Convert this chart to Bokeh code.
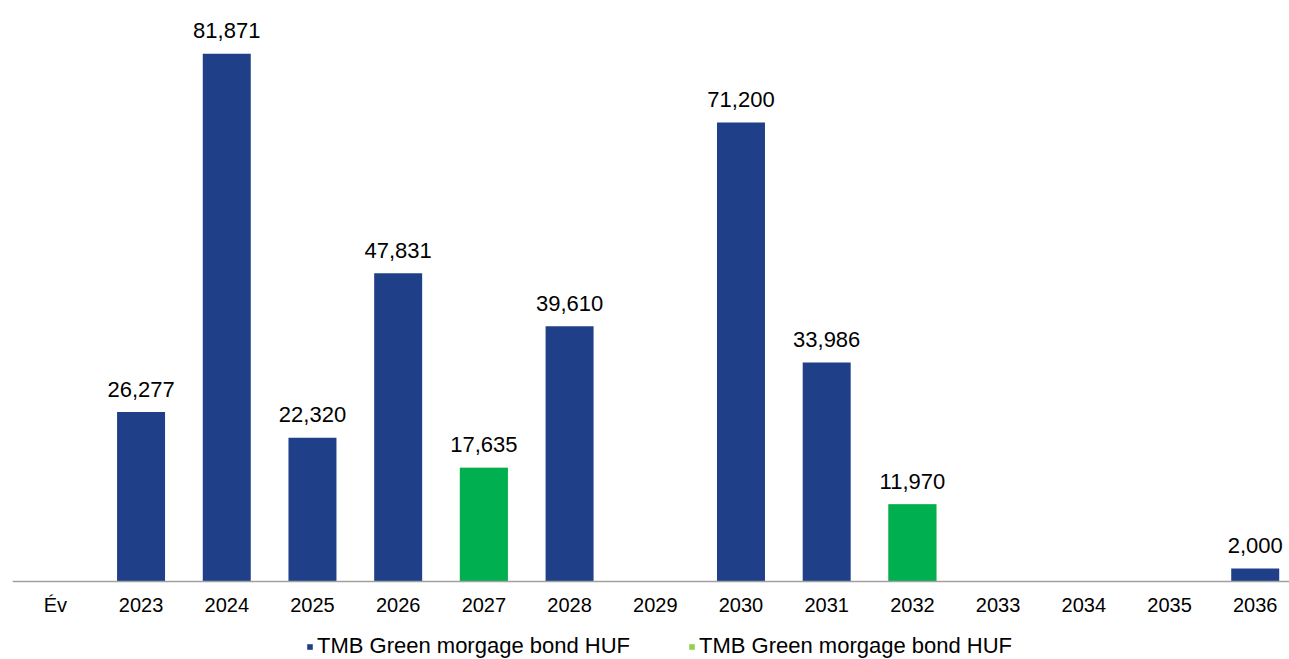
from bokeh.plotting import figure
from bokeh.models import ColumnDataSource, Range1d, FixedTicker, Legend, LegendItem
from bokeh.core.properties import value
from bokeh.embed import file_html
from bokeh.resources import INLINE

# ---- data ----
categories = ["Év", "2023", "2024", "2025", "2026", "2027", "2028", "2029",
              "2030", "2031", "2032", "2033", "2034", "2035", "2036"]
series_blue = [None, 26277, 81871, 22320, 47831, None, 39610, None,
               71200, 33986, None, None, None, None, 2000]
series_green = [None, None, None, None, None, 17635, None, None,
                None, None, 11970, None, None, None, None]
legend_labels = ["TMB Green morgage bond HUF", "TMB Green morgage bond HUF"]

BLUE = "#1F4088"
GREEN = "#00B050"
GREEN_LEGEND = "#92D050"
FONT = "Liberation Sans"

def build(series):
    xs, ys, txt = [], [], []
    for i, v in enumerate(series):
        if v is not None:
            xs.append(i)
            ys.append(v)
            txt.append(f"{v:,}")
    return ColumnDataSource(dict(x=xs, top=ys, label=txt))

src_blue = build(series_blue)
src_green = build(series_green)

p = figure(width=1289, height=659, output_backend="svg", toolbar_location=None,
           x_range=Range1d(-0.5, 14.40), y_range=Range1d(-12100, 90134),
           min_border_left=12, min_border_right=0, min_border_top=0,
           min_border_bottom=0)
p.outline_line_color = None
p.xgrid.visible = False
p.ygrid.visible = False
p.yaxis.visible = False
p.background_fill_color = "white"
p.border_fill_color = "white"

r_blue = p.vbar(x="x", top="top", width=0.56, source=src_blue,
                fill_color=BLUE, line_color=None)
# legend swatch colour for the second series (covered by the bars drawn on top)
r_green_leg = p.vbar(x="x", top="top", width=0.56, source=src_green,
                     fill_color=GREEN_LEGEND, line_color=None)
r_green = p.vbar(x="x", top="top", width=0.56, source=src_green,
                 fill_color=GREEN, line_color=None)

for src in (src_blue, src_green):
    p.text(x="x", y="top", text="label", source=src,
           text_font=value(FONT), text_font_size="22px", text_color="#000000",
           text_align="center", text_baseline="middle", y_offset=-23)

ax = p.xaxis[0]
ax.fixed_location = 0
ax.ticker = FixedTicker(ticks=list(range(len(categories))))
ax.major_label_overrides = {i: c for i, c in enumerate(categories)}
ax.major_tick_out = 0
ax.major_tick_in = 0
ax.minor_tick_out = 0
ax.minor_tick_in = 0
ax.axis_line_color = "#A0A0A0"
ax.axis_line_width = 1.5
ax.major_label_text_font = FONT
ax.major_label_text_font_size = "20px"
ax.major_label_text_color = "#000000"
ax.major_label_standoff = 12

legend = Legend(items=[LegendItem(label=legend_labels[0], renderers=[r_blue]),
                       LegendItem(label=legend_labels[1], renderers=[r_green_leg])],
                orientation="horizontal", location=(294, 0),
                glyph_width=7, glyph_height=7, label_standoff=4, spacing=58,
                padding=0, margin=0, border_line_color=None,
                background_fill_alpha=0,
                label_text_font=FONT, label_text_font_size="22px",
                label_text_color="#000000")
p.add_layout(legend, "center")

open("out.html", "w").write(file_html(p, INLINE))
